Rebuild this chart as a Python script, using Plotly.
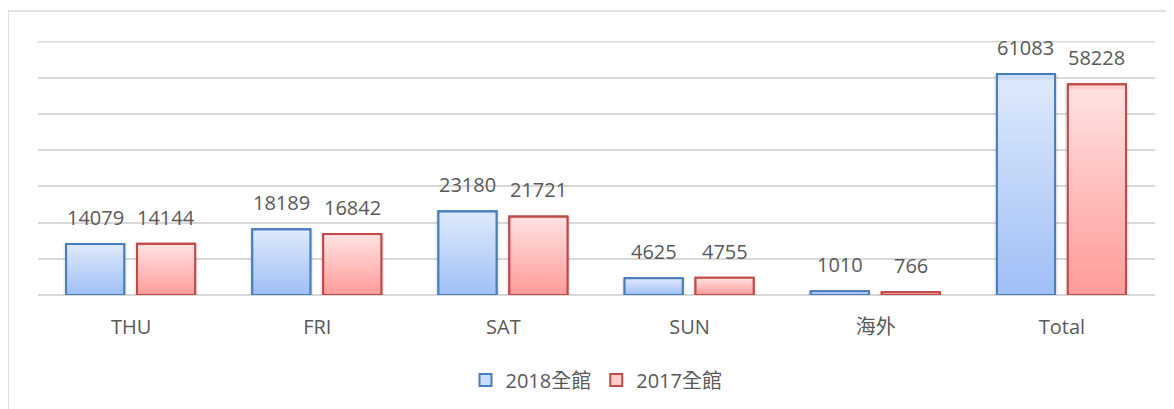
import plotly.graph_objects as go

categories = ["THU", "FRI", "SAT", "SUN", "海外", "Total"]
series_names = ["2018全館", "2017全館"]
values_2018 = [14079, 18189, 23180, 4625, 1010, 61083]
values_2017 = [14144, 16842, 21721, 4755, 766, 58228]
y_max = 70000
y_step = 10000

FONT = "Open Sans, Noto Sans CJK TC, sans-serif"
TXT = "#595959"

styles = [
    dict(top=(222, 233, 252), bottom=(160, 192, 246), line="#4a7ebb", offset=-0.349),
    dict(top=(255, 226, 226), bottom=(255, 156, 154), line="#be4b48", offset=0.032),
]
BAR_W = 0.312
N = 40

# page body has an 8px margin, so the figure is sized/placed to compensate
W, H = 1166, 401
L, R, T, B = 30, 19, 33, 114
PW, PH = W - L - R, H - T - B

def mix(a, b, t):
    return "rgb(%d,%d,%d)" % tuple(round(a[i] + (b[i] - a[i]) * t) for i in range(3))

fig = go.Figure()
xs = list(range(len(categories)))

for name, vals, st in zip(series_names, [values_2018, values_2017], styles):
    fig.add_trace(go.Bar(x=xs, y=vals, width=BAR_W + 0.03, offset=st["offset"] - 0.015,
                         marker=dict(color="rgba(0,0,0,0.07)", line=dict(width=0)),
                         showlegend=False, hoverinfo="skip"))
    for k in range(N):
        f = 1 - k / N
        col = mix(st["top"], st["bottom"], k / (N - 1))
        fig.add_trace(go.Bar(
            x=xs, y=[v * f for v in vals], width=BAR_W, offset=st["offset"],
            marker=dict(color=col if k else mix(st["top"], st["bottom"], 0.3),
                        line=dict(width=2 if k == 0 else 0, color=st["line"])),
            name=name, showlegend=(k == 0), legendgroup=name, hoverinfo="skip"))
    fig.add_trace(go.Bar(x=xs, y=vals, width=BAR_W, offset=st["offset"],
                         marker=dict(color="rgba(0,0,0,0)", line=dict(width=2, color=st["line"])),
                         showlegend=False, legendgroup=name, hoverinfo="skip"))
    for i, v in enumerate(vals):
        fig.add_annotation(x=i + st["offset"] + BAR_W / 2, y=v, text=str(v),
                           showarrow=False, yanchor="bottom", yshift=11,
                           font=dict(family=FONT, size=20, color=TXT))

fig.update_layout(
    barmode="overlay",
    width=W, height=H,
    margin=dict(l=L, r=R, t=T, b=B, autoexpand=False),
    paper_bgcolor="white", plot_bgcolor="white",
    font=dict(family=FONT, size=20, color=TXT),
    legend=dict(orientation="h", x=0.5, xanchor="center",
                yref="container", y=1 - (380 - 8) / H, yanchor="middle",
                font=dict(family=FONT, size=20, color=TXT), traceorder="normal",
                itemwidth=30),
    xaxis=dict(tickmode="array", tickvals=xs, ticktext=categories, range=[-0.5, 5.5],
               showgrid=False, zeroline=False, showline=False, ticks="", automargin=False,
               ticklabelstandoff=18, tickfont=dict(size=20, color=TXT)),
    yaxis=dict(range=[0, y_max * 1.003], dtick=y_step, showticklabels=False, showgrid=True,
               gridcolor="#d9d9d9", gridwidth=1.5, zeroline=True, zerolinecolor="#d9d9d9",
               zerolinewidth=1.5, showline=False, automargin=False),
    shapes=[
        dict(type="rect", xref="paper", yref="paper",
             x0=(0 - L) / PW, x1=(W + 10 - L) / PW,
             y0=-(B + 10) / PH, y1=(PH + T - 3) / PH,
             line=dict(color="#d9d9d9", width=1.5), fillcolor="rgba(0,0,0,0)", layer="below"),
        dict(type="line", xref="paper", yref="y", x0=0, x1=1, y0=y_max, y1=y_max,
             line=dict(color="#d9d9d9", width=1.5), layer="below"),
    ],
)

fig.write_html("out.html")
